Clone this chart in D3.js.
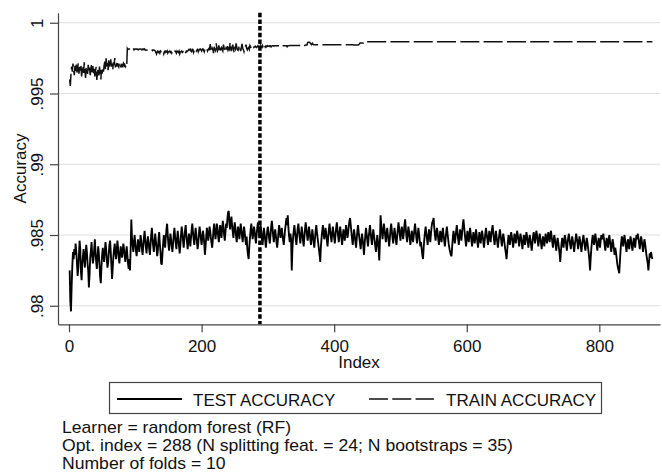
<!DOCTYPE html>
<meta charset="utf-8">
<style>
body { margin: 0; background: #fff; }
text { font-family: "Liberation Sans", Arial, sans-serif; fill: #111; }
.grid line { stroke: #dedede; stroke-width: 1.2px; }
.axis path, .axis line { stroke: #444; stroke-width: 1.2px; }
.axis text { font-size: 17px; fill: #111; font-family: "Liberation Sans", Arial, sans-serif; }
.test { fill: none; stroke: #000; stroke-width: 1.85px; }
.train { fill: none; stroke: #111; stroke-width: 1.5px; stroke-dasharray: 19,4.3; }
.optline { stroke: #000; stroke-width: 3.5px; stroke-dasharray: 4.5,2.2; }
</style>
<svg width="662" height="473"></svg>
<script src="https://cdn.jsdelivr.net/npm/d3@7"></script>
<script>

// test accuracy, in units of 0.0001 above 0.98 (one value per index, starting at 1)
var TEST_BASE = 0.98, TEST_UNIT = 1e-4;
var testAcc = [
  25,3,-4,14,28,38,33,40,36,44,38,30,21,27,36,46,40,24,18,29,
  35,40,33,27,36,43,38,30,25,13,22,34,39,45,36,30,33,40,47,38,
  31,26,34,42,37,29,20,16,28,36,41,35,31,38,45,40,33,27,30,37,
  43,46,38,28,19,27,35,40,44,37,33,39,46,41,34,30,36,42,38,34,
  39,44,40,35,31,37,42,36,30,26,33,25,40,61,48,43,38,45,50,44,
  39,35,41,47,43,38,44,50,46,40,36,42,48,53,47,41,37,44,49,45,
  40,36,43,50,55,48,42,38,45,51,46,41,35,39,47,52,44,38,30,29,
  37,44,50,46,41,48,54,58,50,43,39,45,51,47,42,38,44,50,55,49,
  44,40,47,53,48,42,37,43,50,56,52,46,41,47,53,57,50,45,40,46,
  51,47,42,48,54,58,52,47,43,49,55,50,45,40,44,51,56,52,47,43,
  48,53,50,44,36,42,49,55,51,46,50,56,53,48,44,41,47,54,58,52,
  47,52,58,55,49,45,51,57,53,48,54,60,56,50,46,52,58,55,62,66,
  67,58,54,60,63,57,52,48,54,59,55,49,45,51,56,52,47,53,58,54,
  49,45,51,56,52,47,43,49,40,36,33,42,48,54,58,52,47,51,56,53,
  48,44,50,55,59,54,49,52,57,53,47,43,49,55,51,46,41,47,53,56,
  52,47,44,50,56,60,55,49,45,51,54,50,45,41,46,52,57,53,48,51,
  55,50,46,43,49,54,58,62,57,64,55,49,45,51,47,25,40,48,53,57,
  52,47,43,49,55,58,53,48,44,50,56,52,46,42,48,54,59,55,50,46,
  51,56,52,47,43,48,54,50,45,41,47,53,57,52,48,44,40,36,31,42,
  48,53,57,52,47,50,55,51,46,42,48,54,58,53,49,45,51,56,52,48,
  44,50,55,59,54,49,45,51,56,52,47,43,49,54,50,46,52,57,53,48,
  51,56,60,62,57,52,47,43,49,54,50,45,41,47,53,57,52,48,44,40,
  46,51,47,42,36,44,50,55,51,46,42,48,53,57,52,47,43,49,54,50,
  46,42,38,44,50,46,40,32,45,64,57,52,47,53,58,54,49,45,51,55,
  50,46,42,48,54,58,53,48,44,50,55,51,46,43,49,54,59,55,50,46,
  52,56,52,47,51,57,61,55,49,45,51,56,52,47,43,48,53,50,45,49,
  54,58,53,48,44,50,55,51,46,42,45,40,36,33,41,47,52,56,51,47,
  43,49,54,50,45,51,56,59,60,62,55,50,46,51,55,52,47,43,48,53,
  49,45,51,55,50,46,42,47,52,56,51,47,43,40,38,36,35,42,48,53,
  49,44,48,53,57,52,47,43,49,54,50,46,52,57,61,56,51,46,42,48,
  53,49,45,50,55,51,46,42,47,52,48,44,49,54,50,45,41,47,52,48,
  44,49,53,50,45,41,46,51,55,51,47,43,48,53,49,45,50,54,57,52,
  47,43,48,53,49,45,41,46,50,54,50,46,42,47,51,48,44,40,37,33,
  39,45,50,47,43,48,52,49,45,41,46,51,48,44,49,53,50,46,42,47,
  51,48,44,40,45,50,47,43,48,52,49,45,41,46,50,47,43,39,44,49,
  52,48,44,49,53,50,46,42,47,51,48,44,40,45,49,46,42,47,51,48,
  44,48,52,49,45,50,53,49,45,41,46,50,47,43,39,44,48,45,41,37,
  31,38,44,48,45,41,46,50,47,43,39,44,48,51,47,43,40,45,49,46,
  42,38,43,47,51,48,44,40,45,49,46,42,38,43,47,50,46,42,39,44,
  48,45,41,37,32,25,34,41,46,50,47,43,48,51,47,43,39,44,48,45,
  41,46,50,47,49,51,47,43,39,44,48,45,41,46,50,46,42,38,43,47,
  44,40,36,41,38,34,30,27,25,23,31,39,45,49,46,42,47,50,46,42,
  38,43,47,44,40,45,49,46,42,39,44,48,45,41,46,50,47,51,48,44,
  40,45,49,46,42,38,43,47,44,40,36,33,30,25,31,37,34,38,35,33
];

// train accuracy, in units of 0.00001 above 0.99
var TRAIN_BASE = 0.99, TRAIN_UNIT = 1e-5;
var trainAcc = [
  600,553,640,690,655,712,668,630,695,660,705,648,676,715,640,688,662,700,620,672,
  698,645,720,665,610,690,676,638,702,655,684,630,668,712,650,693,640,675,620,660,
  688,595,650,672,628,690,645,600,668,640,683,655,700,725,670,748,690,715,665,735,
  700,680,742,690,712,668,720,700,750,685,705,690,715,698,688,720,700,692,710,685,
  700,712,695,705,690,698,689,819,812,815,815,810,818,815,815,812,815,808,815,815,
  812,815,815,810,808,815,815,815,812,808,815,815,810,815,808,805,808,808,810,808,
  808,808,805,808,808,803,808,808,805,800,790,779,795,800,790,795,785,800,795,795,
  790,800,780,795,800,790,795,802,785,795,795,800,790,795,785,795,800,795,790,800,
  795,785,800,795,790,800,780,795,795,800,790,795,785,800,795,790,800,795,800,805,
  812,808,812,800,795,812,810,790,805,815,812,800,808,812,795,805,812,815,808,800,
  812,815,805,795,812,820,810,815,800,812,818,805,850,812,795,820,810,785,830,815,
  805,855,820,800,812,840,815,790,818,825,810,800,845,820,812,795,822,815,835,808,
  820,812,860,815,800,825,845,815,790,820,812,855,830,810,805,820,840,815,800,825,
  850,820,810,795,815,830,845,818,808,820,825,812,840,830,822,818,828,835,825,830,
  835,828,825,832,838,830,825,835,842,830,825,838,820,832,840,828,835,830,838,833,
  835,838,832,836,830,835,838,838,835,838,838,838,836,838,838,838,838,838,838,832,
  838,838,838,838,838,838,838,838,830,838,838,838,840,840,840,840,840,840,840,840,
  840,840,840,840,840,840,840,840,840,840,840,835,840,840,840,840,842,842,842,860,
  862,862,862,855,850,845,855,848,845,845,845,845,845,845,845,845,845,845,845,845,
  845,845,845,845,845,845,845,845,845,845,845,845,845,845,845,845,845,845,845,845,
  845,845,845,845,845,845,845,845,845,845,845,845,845,845,845,845,845,845,845,845,
  845,845,845,845,845,845,845,845,842,842,842,842,842,842,842,842,845,850,856,856,
  856,856,856,856,866,866,866,866,866,866,866,866,866,866,866,866,866,866,866,866,
  866,866,866,866,866,866,866,866,866,866,866,866,866,866,866,866,866,866,866,866,
  866,866,866,866,866,866,866,866,866,866,866,866,866,866,866,866,866,866,866,866,
  866,866,866,866,866,866,866,866,866,866,866,866,866,866,866,866,866,866,866,866,
  866,866,866,866,866,866,866,866,866,866,866,866,866,866,866,866,866,866,866,866,
  866,866,866,866,866,866,866,866,866,866,866,866,866,866,866,866,866,866,866,866,
  866,866,866,866,866,866,866,866,866,866,866,866,866,866,866,866,866,866,866,866,
  866,866,866,866,866,866,866,866,866,866,866,866,866,866,866,866,866,866,866,866,
  866,866,866,866,866,866,866,866,866,866,866,866,866,866,866,866,866,866,866,866,
  866,866,866,866,866,866,866,866,866,866,866,866,866,866,866,866,866,866,866,866,
  866,866,866,866,866,866,866,866,866,866,866,866,866,866,866,866,866,866,866,866,
  866,866,866,866,866,866,866,866,866,866,866,866,866,866,866,866,866,866,866,866,
  866,866,866,866,866,866,866,866,866,866,866,866,866,866,866,866,866,866,866,866,
  866,866,866,866,866,866,866,866,866,866,866,866,866,866,866,866,866,866,866,866,
  866,866,866,866,866,866,866,866,866,866,866,866,866,866,866,866,866,866,866,866,
  866,866,866,866,866,866,866,866,866,866,866,866,866,866,866,866,866,866,866,866,
  866,866,866,866,866,866,866,866,866,866,866,866,866,866,866,866,866,866,866,866,
  866,866,866,866,866,866,866,866,866,866,866,866,866,866,866,866,866,866,866,866,
  866,866,866,866,866,866,866,866,866,866,866,866,866,866,866,866,866,866,866,866,
  866,866,866,866,866,866,866,866,866,866,866,866,866,866,866,866,866,866,866,866,
  866,866,866,866,866,866,866,866,866,866,866,866,866,866,866,866,866,866,866,866,
  866,866,866,866,866,866,866,866,866,866,866,866,866,866,866,866,866,866,866,866
];

var optIndex = 288;

var xTicks = [0, 200, 400, 600, 800];
var yTicks = [0.98, 0.985, 0.99, 0.995, 1];
var yTickLabels = [".98", ".985", ".99", ".995", "1"];

var legendLabels = ["TEST ACCURACY", "TRAIN ACCURACY"];
var noteLines = [
  "Learner = random forest (RF)",
  "Opt. index = 288 (N splitting feat. = 24; N bootstraps = 35)",
  "Number of folds = 10"
];

var svg = d3.select("svg");

var x = d3.scaleLinear().domain([-16.6, 891.5]).range([58, 660]),
    y = d3.scaleLinear().domain([0.97869, 1.00071]).range([324.3, 12.7]);

var test = testAcc.map(function(v, i) { return {idx: i + 1, acc: TEST_BASE + v * TEST_UNIT}; });
var train = trainAcc.map(function(v, i) { return {idx: i + 1, acc: TRAIN_BASE + v * TRAIN_UNIT}; });

var line = d3.line()
    .x(function(d) { return x(d.idx); })
    .y(function(d) { return y(d.acc); });

// gridlines
svg.append("g").attr("class", "grid")
  .selectAll("line").data(yTicks).enter().append("line")
    .attr("x1", x.range()[0]).attr("x2", x.range()[1])
    .attr("y1", function(d) { return y(d); })
    .attr("y2", function(d) { return y(d); });

svg.append("path").datum(train).attr("class", "train").attr("d", line);
svg.append("path").datum(test).attr("class", "test").attr("d", line);

svg.append("line").attr("class", "optline")
    .attr("x1", x(optIndex)).attr("x2", x(optIndex))
    .attr("y1", y.range()[1]).attr("y2", y.range()[0]);

// axes
var gx = svg.append("g").attr("class", "axis")
    .attr("transform", "translate(0," + y.range()[0] + ")")
    .call(d3.axisBottom(x).tickValues(xTicks).tickSize(8).tickSizeOuter(0));
gx.selectAll(".tick text").attr("y", 28).attr("dy", null);

var gy = svg.append("g").attr("class", "axis")
    .attr("transform", "translate(" + x.range()[0] + ",0)")
    .call(d3.axisLeft(y).tickValues(yTicks).tickSize(8).tickSizeOuter(0)
      .tickFormat(function(d, i) { return yTickLabels[i]; }));
gy.selectAll(".tick text")
    .attr("x", null).attr("dy", null)
    .attr("text-anchor", "middle")
    .attr("transform", "translate(-15,0) rotate(-90)");

svg.append("text")
    .attr("transform", "translate(26," + (y.range()[0] + y.range()[1]) / 2 + ") rotate(-90)")
    .attr("text-anchor", "middle")
    .style("font-size", "17px")
    .text("Accuracy");

svg.append("text")
    .attr("x", (x.range()[0] + x.range()[1]) / 2)
    .attr("y", 368)
    .attr("text-anchor", "middle")
    .style("font-size", "17px")
    .text("Index");

// legend
var legend = svg.append("g");
legend.append("rect")
    .attr("x", 109.5).attr("y", 382.5).attr("width", 492).attr("height", 31)
    .attr("fill", "#fff").attr("stroke", "#444").attr("stroke-width", 1.2);
legend.append("line").attr("class", "test")
    .attr("x1", 117).attr("x2", 182).attr("y1", 399).attr("y2", 399);
legend.append("line").attr("class", "train")
    .attr("x1", 369).attr("x2", 434).attr("y1", 399).attr("y2", 399);
legend.selectAll("text.lg").data(legendLabels).enter().append("text")
    .attr("class", "lg")
    .attr("x", function(d, i) { return i ? 446 : 193; })
    .attr("y", 406)
    .style("font-size", "17px")
    .text(function(d) { return d; });

// notes under the legend
svg.selectAll("text.note").data(noteLines).enter().append("text")
    .attr("class", "note")
    .attr("transform", function(d, i) { return "translate(62," + (433 + i * 18) + ") scale(1.1,1)"; })
    .style("font-size", "16px")
    .text(function(d) { return d; });

</script>
